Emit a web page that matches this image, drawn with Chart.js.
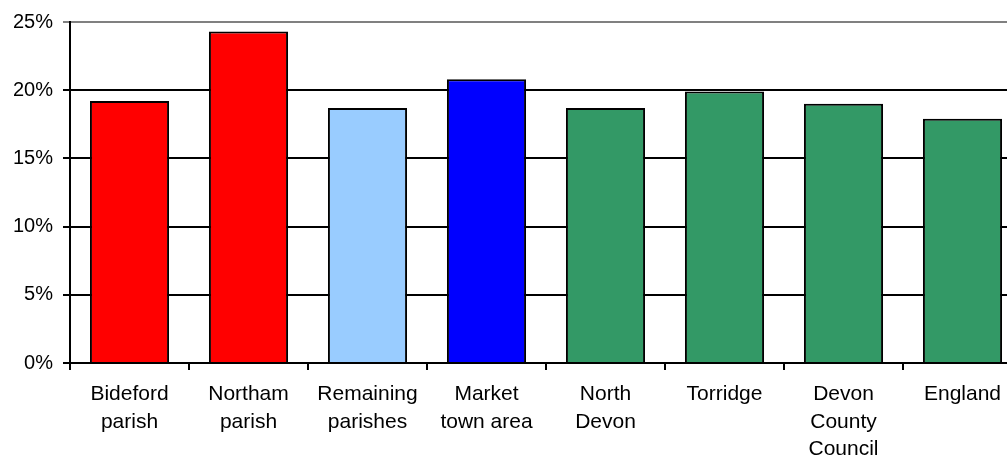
<!DOCTYPE html>
<html>
<head>
<meta charset="utf-8">
<script src="https://cdn.jsdelivr.net/npm/chart.js@4"></script>
<style>
    body { margin: 0; overflow: hidden; background: #fff; }
    #wrap { position: absolute; left: 0; top: 0; width: 1022px; height: 457px; }
</style>
</head>
<body>
<div id="wrap"><canvas id="chart"></canvas></div>
<script>
// share of population, by area
const categories = [
    ["Bideford", "parish"],
    ["Northam", "parish"],
    ["Remaining", "parishes"],
    ["Market", "town area"],
    ["North", "Devon"],
    ["Torridge"],
    ["Devon", "County", "Council"],
    ["England"]
];
const values = [19.2, 24.3, 18.7, 20.8, 18.7, 19.9, 19.0, 17.9];
const barColors = ["#FF0000", "#FF0000", "#99CCFF", "#0000FF", "#339966", "#339966", "#339966", "#339966"];
const yTicks = [0, 5, 10, 15, 20, 25];

const font = "Liberation Sans, Arial, sans-serif";

new Chart(document.getElementById("chart"), {
    type: "bar",
    data: {
        labels: categories,
        datasets: [{
            data: values,
            backgroundColor: barColors,
            borderColor: "#000",
            borderWidth: 2,
            categoryPercentage: 1,
            barPercentage: 0.665
        }]
    },
    options: {
        responsive: true,
        maintainAspectRatio: false,
        animation: false,
        layout: { padding: { top: 12, right: 0, left: 0, bottom: 0 } },
        plugins: { legend: { display: false }, tooltip: { enabled: false } },
        scales: {
            x: {
                grid: {
                    offset: true,
                    drawOnChartArea: false,
                    color: "#000",
                    lineWidth: 2,
                    tickLength: 7
                },
                border: { color: "#000", width: 2 },
                ticks: {
                    color: "#000",
                    font: { family: font, size: 21, lineHeight: 1.3 },
                    maxRotation: 0,
                    autoSkip: false,
                    padding: 11
                },
                afterFit: (scale) => { scale.height = 94; }
            },
            y: {
                min: 0,
                max: 25,
                afterBuildTicks: (scale) => { scale.ticks = yTicks.map(v => ({ value: v })); },
                grid: {
                    color: (ctx) => ctx.tick && ctx.tick.value === 25 ? "#808080" : "#000",
                    lineWidth: 2,
                    tickLength: 7
                },
                border: { color: "#000", width: 2 },
                ticks: {
                    color: "#000",
                    font: { family: font, size: 20 },
                    padding: 10,
                    callback: (v) => v + "%"
                },
                afterFit: (scale) => { scale.width = 70; }
            }
        }
    }
});
</script>
</body>
</html>
